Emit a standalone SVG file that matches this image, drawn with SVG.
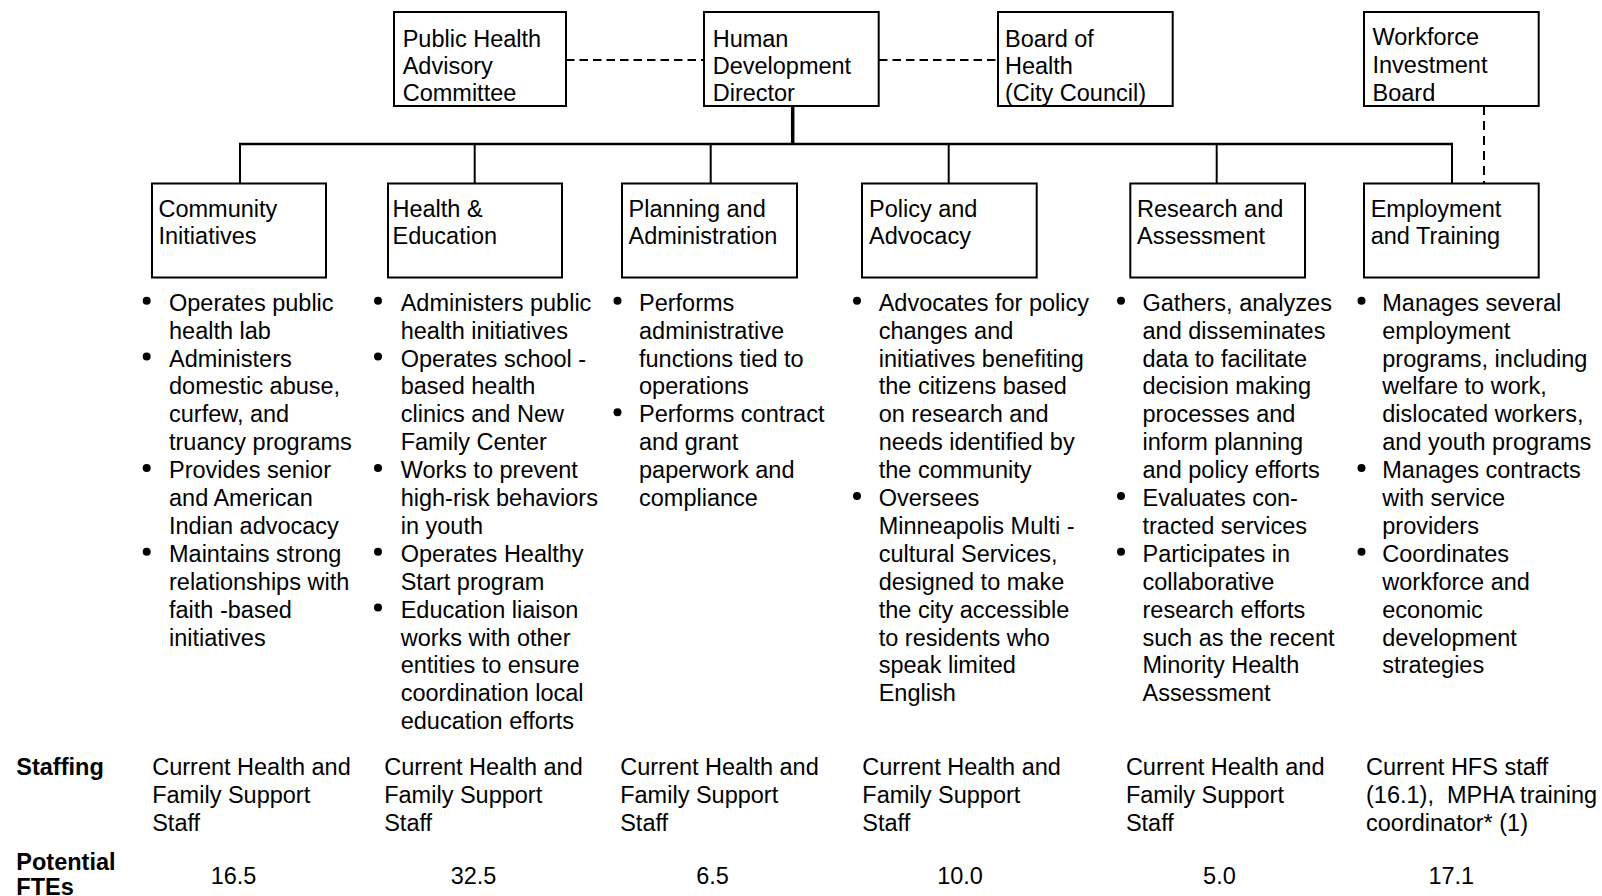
<svg xmlns="http://www.w3.org/2000/svg" width="1602" height="896" viewBox="0 0 1602 896">
  <style>
    text { font-family: "Liberation Sans", Arial, sans-serif; font-size: 23.5px; fill: #000; }
    .bold { font-weight: bold; }
    .num { text-anchor: middle; }
    .box { fill: #fff; stroke: #000; stroke-width: 2; }
    .bus { fill: none; stroke: #000; stroke-width: 2.5; }
    .trunk { fill: none; stroke: #000; stroke-width: 3.5; }
    .drop { fill: none; stroke: #000; stroke-width: 2; }
    .dash { fill: none; stroke: #000; stroke-width: 2; stroke-dasharray: 8.5 5; }
    .bullet { fill: #000; }
  </style>
  <rect width="1602" height="896" fill="#fff"/>

  <!-- connectors -->
  <g id="connectors">
    <line class="dash" x1="566" y1="60" x2="704" y2="60"/>
    <line class="dash" x1="879" y1="60" x2="998" y2="60"/>
    <line class="dash" x1="1484" y1="106" x2="1484" y2="183.5" style="stroke-dasharray: 9 6"/>
    <line class="trunk" x1="792.7" y1="106" x2="792.7" y2="144"/>
    <line class="bus" x1="239" y1="144" x2="1453" y2="144"/>
    <line class="drop" x1="240" y1="144" x2="240" y2="183.5"/>
    <line class="drop" x1="474.7" y1="144" x2="474.7" y2="183.5"/>
    <line class="drop" x1="710.7" y1="144" x2="710.7" y2="183.5"/>
    <line class="drop" x1="948.7" y1="144" x2="948.7" y2="183.5"/>
    <line class="drop" x1="1216.7" y1="144" x2="1216.7" y2="183.5"/>
    <line class="drop" x1="1452" y1="144" x2="1452" y2="183.5"/>
  </g>

  <!-- top row -->
  <g id="advisory-committee">
    <rect class="box" x="394" y="12" width="172" height="94"/>
    <text x="402.7" y="46.5"><tspan x="402.7">Public Health</tspan><tspan x="402.7" dy="27.3">Advisory</tspan><tspan x="402.7" dy="26.7">Committee</tspan></text>
  </g>
  <g id="director">
    <rect class="box" x="704" y="12" width="174.7" height="94"/>
    <text x="712.7" y="46.5"><tspan x="712.7">Human</tspan><tspan x="712.7" dy="27.3">Development</tspan><tspan x="712.7" dy="26.7">Director</tspan></text>
  </g>
  <g id="board-of-health">
    <rect class="box" x="998" y="12" width="174.7" height="94"/>
    <text x="1005" y="46.5"><tspan x="1005">Board of</tspan><tspan x="1005" dy="27.3">Health</tspan><tspan x="1005" dy="26.7">(City Council)</tspan></text>
  </g>
  <g id="workforce-board">
    <rect class="box" x="1364" y="12" width="174.7" height="94"/>
    <text x="1372.5" y="45"><tspan x="1372.5">Workforce</tspan><tspan x="1372.5" dy="28">Investment</tspan><tspan x="1372.5" dy="28">Board</tspan></text>
  </g>

  <!-- divisions -->
  <g id="community-initiatives">
    <rect class="box" x="152" y="183.5" width="174" height="94"/>
    <text x="158.5" y="216.7"><tspan x="158.5">Community</tspan><tspan x="158.5" dy="27.6">Initiatives</tspan></text>
    <circle class="bullet" cx="146.7" cy="300.7" r="4"/>
    <circle class="bullet" cx="146.7" cy="356.5" r="4"/>
    <circle class="bullet" cx="146.7" cy="468.1" r="4"/>
    <circle class="bullet" cx="146.7" cy="551.8" r="4"/>
    <text x="169" y="310.7"><tspan x="169">Operates public</tspan><tspan x="169" dy="27.9">health lab</tspan><tspan x="169" dy="27.9">Administers</tspan><tspan x="169" dy="27.9">domestic abuse,</tspan><tspan x="169" dy="27.9">curfew, and</tspan><tspan x="169" dy="27.9">truancy programs</tspan><tspan x="169" dy="27.9">Provides senior</tspan><tspan x="169" dy="27.9">and American</tspan><tspan x="169" dy="27.9">Indian advocacy</tspan><tspan x="169" dy="27.9">Maintains strong</tspan><tspan x="169" dy="27.9">relationships with</tspan><tspan x="169" dy="27.9">faith -based</tspan><tspan x="169" dy="27.9">initiatives</tspan></text>
  </g>

  <g id="health-education">
    <rect class="box" x="388" y="183.5" width="174" height="94"/>
    <text x="392.5" y="216.7"><tspan x="392.5">Health &amp;</tspan><tspan x="392.5" dy="27.6">Education</tspan></text>
    <circle class="bullet" cx="378" cy="300.7" r="4"/>
    <circle class="bullet" cx="378" cy="356.5" r="4"/>
    <circle class="bullet" cx="378" cy="468.1" r="4"/>
    <circle class="bullet" cx="378" cy="551.8" r="4"/>
    <circle class="bullet" cx="378" cy="607.6" r="4"/>
    <text x="400.7" y="310.7"><tspan x="400.7">Administers public</tspan><tspan x="400.7" dy="27.9">health initiatives</tspan><tspan x="400.7" dy="27.9">Operates school -</tspan><tspan x="400.7" dy="27.9">based health</tspan><tspan x="400.7" dy="27.9">clinics and New</tspan><tspan x="400.7" dy="27.9">Family Center</tspan><tspan x="400.7" dy="27.9">Works to prevent</tspan><tspan x="400.7" dy="27.9">high-risk behaviors</tspan><tspan x="400.7" dy="27.9">in youth</tspan><tspan x="400.7" dy="27.9">Operates Healthy</tspan><tspan x="400.7" dy="27.9">Start program</tspan><tspan x="400.7" dy="27.9">Education liaison</tspan><tspan x="400.7" dy="27.9">works with other</tspan><tspan x="400.7" dy="27.9">entities to ensure</tspan><tspan x="400.7" dy="27.9">coordination local</tspan><tspan x="400.7" dy="27.9">education efforts</tspan></text>
  </g>

  <g id="planning-administration">
    <rect class="box" x="622" y="183.5" width="175" height="94"/>
    <text x="628.5" y="216.7"><tspan x="628.5">Planning and</tspan><tspan x="628.5" dy="27.6">Administration</tspan></text>
    <circle class="bullet" cx="617.5" cy="300.7" r="4"/>
    <circle class="bullet" cx="617.5" cy="412.3" r="4"/>
    <text x="639" y="310.7"><tspan x="639">Performs</tspan><tspan x="639" dy="27.9">administrative</tspan><tspan x="639" dy="27.9">functions tied to</tspan><tspan x="639" dy="27.9">operations</tspan><tspan x="639" dy="27.9">Performs contract</tspan><tspan x="639" dy="27.9">and grant</tspan><tspan x="639" dy="27.9">paperwork and</tspan><tspan x="639" dy="27.9">compliance</tspan></text>
  </g>

  <g id="policy-advocacy">
    <rect class="box" x="862" y="183.5" width="174.7" height="94"/>
    <text x="869" y="216.7"><tspan x="869">Policy and</tspan><tspan x="869" dy="27.6">Advocacy</tspan></text>
    <circle class="bullet" cx="857" cy="300.7" r="4"/>
    <circle class="bullet" cx="857" cy="496" r="4"/>
    <text x="878.7" y="310.7"><tspan x="878.7">Advocates for policy</tspan><tspan x="878.7" dy="27.9">changes and</tspan><tspan x="878.7" dy="27.9">initiatives benefiting</tspan><tspan x="878.7" dy="27.9">the citizens based</tspan><tspan x="878.7" dy="27.9">on research and</tspan><tspan x="878.7" dy="27.9">needs identified by</tspan><tspan x="878.7" dy="27.9">the community</tspan><tspan x="878.7" dy="27.9">Oversees</tspan><tspan x="878.7" dy="27.9">Minneapolis Multi -</tspan><tspan x="878.7" dy="27.9">cultural Services,</tspan><tspan x="878.7" dy="27.9">designed to make</tspan><tspan x="878.7" dy="27.9">the city accessible</tspan><tspan x="878.7" dy="27.9">to residents who</tspan><tspan x="878.7" dy="27.9">speak limited</tspan><tspan x="878.7" dy="27.9">English</tspan></text>
  </g>

  <g id="research-assessment">
    <rect class="box" x="1130.3" y="183.5" width="174.7" height="94"/>
    <text x="1137" y="216.7"><tspan x="1137">Research and</tspan><tspan x="1137" dy="27.6">Assessment</tspan></text>
    <circle class="bullet" cx="1121" cy="300.7" r="4"/>
    <circle class="bullet" cx="1121" cy="496" r="4"/>
    <circle class="bullet" cx="1121" cy="551.8" r="4"/>
    <text x="1142.5" y="310.7"><tspan x="1142.5">Gathers, analyzes</tspan><tspan x="1142.5" dy="27.9">and disseminates</tspan><tspan x="1142.5" dy="27.9">data to facilitate</tspan><tspan x="1142.5" dy="27.9">decision making</tspan><tspan x="1142.5" dy="27.9">processes and</tspan><tspan x="1142.5" dy="27.9">inform planning</tspan><tspan x="1142.5" dy="27.9">and policy efforts</tspan><tspan x="1142.5" dy="27.9">Evaluates con-</tspan><tspan x="1142.5" dy="27.9">tracted services</tspan><tspan x="1142.5" dy="27.9">Participates in</tspan><tspan x="1142.5" dy="27.9">collaborative</tspan><tspan x="1142.5" dy="27.9">research efforts</tspan><tspan x="1142.5" dy="27.9">such as the recent</tspan><tspan x="1142.5" dy="27.9">Minority Health</tspan><tspan x="1142.5" dy="27.9">Assessment</tspan></text>
  </g>

  <g id="employment-training">
    <rect class="box" x="1364" y="183.5" width="174.7" height="94"/>
    <text x="1370.7" y="216.7"><tspan x="1370.7">Employment</tspan><tspan x="1370.7" dy="27.6">and Training</tspan></text>
    <circle class="bullet" cx="1361.5" cy="300.7" r="4"/>
    <circle class="bullet" cx="1361.5" cy="468.1" r="4"/>
    <circle class="bullet" cx="1361.5" cy="551.8" r="4"/>
    <text x="1382.3" y="310.7"><tspan x="1382.3">Manages several</tspan><tspan x="1382.3" dy="27.9">employment</tspan><tspan x="1382.3" dy="27.9">programs, including</tspan><tspan x="1382.3" dy="27.9">welfare to work,</tspan><tspan x="1382.3" dy="27.9">dislocated workers,</tspan><tspan x="1382.3" dy="27.9">and youth programs</tspan><tspan x="1382.3" dy="27.9">Manages contracts</tspan><tspan x="1382.3" dy="27.9">with service</tspan><tspan x="1382.3" dy="27.9">providers</tspan><tspan x="1382.3" dy="27.9">Coordinates</tspan><tspan x="1382.3" dy="27.9">workforce and</tspan><tspan x="1382.3" dy="27.9">economic</tspan><tspan x="1382.3" dy="27.9">development</tspan><tspan x="1382.3" dy="27.9">strategies</tspan></text>
  </g>

  <!-- staffing table -->
  <g id="staffing">
    <text class="bold" x="16.3" y="774.5">Staffing</text>
    <text x="152.2" y="774.5"><tspan x="152.2">Current Health and</tspan><tspan x="152.2" dy="28">Family Support</tspan><tspan x="152.2" dy="28">Staff</tspan></text>
    <text x="384.2" y="774.5"><tspan x="384.2">Current Health and</tspan><tspan x="384.2" dy="28">Family Support</tspan><tspan x="384.2" dy="28">Staff</tspan></text>
    <text x="620.2" y="774.5"><tspan x="620.2">Current Health and</tspan><tspan x="620.2" dy="28">Family Support</tspan><tspan x="620.2" dy="28">Staff</tspan></text>
    <text x="862.3" y="774.5"><tspan x="862.3">Current Health and</tspan><tspan x="862.3" dy="28">Family Support</tspan><tspan x="862.3" dy="28">Staff</tspan></text>
    <text x="1125.9" y="774.5"><tspan x="1125.9">Current Health and</tspan><tspan x="1125.9" dy="28">Family Support</tspan><tspan x="1125.9" dy="28">Staff</tspan></text>
    <text x="1366" y="774.5" xml:space="preserve"><tspan x="1366">Current HFS staff</tspan><tspan x="1366" dy="28">(16.1),  MPHA training</tspan><tspan x="1366" dy="28">coordinator* (1)</tspan></text>
  </g>
  <g id="potential-ftes">
    <text class="bold" x="16.3" y="869.5"><tspan x="16.3">Potential</tspan><tspan x="16.3" dy="25">FTEs</tspan></text>
    <text class="num" x="233.5" y="884">16.5</text>
    <text class="num" x="473.5" y="884">32.5</text>
    <text class="num" x="712.6" y="884">6.5</text>
    <text class="num" x="960" y="884">10.0</text>
    <text class="num" x="1219.4" y="884">5.0</text>
    <text class="num" x="1451.3" y="884">17.1</text>
  </g>
</svg>
